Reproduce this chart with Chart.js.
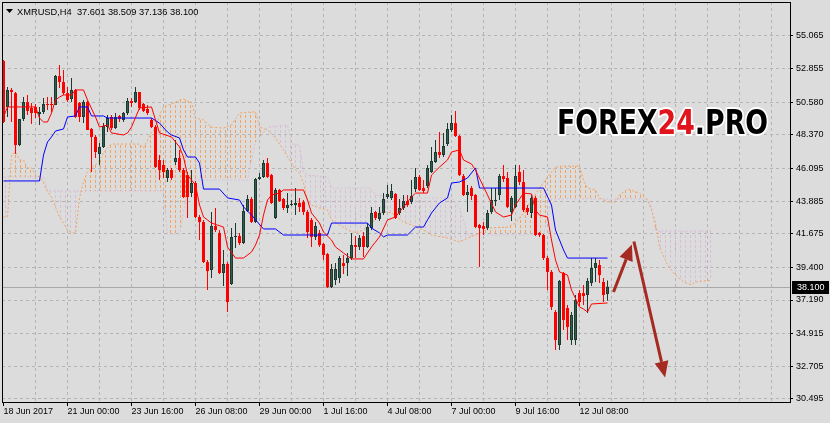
<!DOCTYPE html>
<html>
<head>
<meta charset="utf-8">
<script src="https://cdn.jsdelivr.net/npm/chart.js@4.4.1/dist/chart.umd.min.js"></script>
<style>
  html, body { margin: 0; padding: 0; background: #dcdcdc; }
  canvas { display: block; }
</style>
</head>
<body>
<canvas id="c" width="830" height="423"></canvas>
<script>
// XMRUSD H4 - candles + Ichimoku, MT4 look

// === DATOS ===
const opens = [53.37,50.26,51.41,51.20,47.68,49.44,50.59,50.19,50.26,49.78,
  49.92,50.46,50.46,50.39,52.35,51.95,51.20,50.80,51.41,50.53,
  49.58,50.59,48.77,48.23,47.07,47.55,48.90,49.58,48.83,49.65,
  49.38,49.85,50.66,50.59,51.27,50.46,50.12,49.38,48.90,46.67,
  46.33,45.45,45.99,46.53,46.80,45.99,45.65,44.43,45.11,42.81,
  42.47,39.76,39.22,42.20,41.73,39.02,39.63,38.27,41.46,41.52,
  41.05,43.22,44.03,42.47,45.38,45.52,46.46,45.65,42.74,44.64,
  44.03,43.42,43.62,43.62,43.76,43.82,43.15,42.61,41.46,41.73,
  40.98,40.30,38.07,38.54,38.68,39.69,39.69,40.03,40.91,40.78,
  41.52,40.78,42.06,43.15,42.67,43.08,44.16,44.10,44.37,43.08,
  43.42,43.89,43.82,44.70,45.52,44.77,44.91,45.86,46.53,47.21,
  47.01,47.75,48.70,49.17,48.29,45.58,44.30,44.77,44.30,42.27,
  42.20,42.06,43.15,43.89,44.30,45.58,45.45,43.15,43.49,45.86,
  45.18,43.42,43.08,44.10,41.73,41.59,40.03,39.09,36.38,34.14,
  39.02,36.65,34.48,34.48,37.66,37.66,37.53,38.34,39.36,39.56,
  38.41,37.601];
const highs = [53.44,51.61,51.54,51.27,49.44,50.93,51.07,50.53,50.46,50.26,
  50.87,50.93,50.93,52.42,53.10,52.76,51.61,52.22,51.47,50.59,
  50.73,50.66,48.83,48.36,47.82,49.17,49.71,49.71,49.85,49.71,
  49.92,50.87,50.87,51.61,51.27,50.53,50.39,49.51,49.04,47.01,
  46.67,46.13,46.13,48.02,47.35,46.13,45.86,45.99,45.25,42.94,
  42.61,39.90,43.15,43.42,41.93,40.58,39.76,42.06,42.40,41.73,
  43.62,44.30,44.16,45.45,45.79,46.67,46.80,45.72,44.77,44.70,
  44.10,44.43,43.96,44.77,44.10,43.96,43.28,42.74,42.47,41.93,
  41.05,40.37,39.63,39.69,40.17,40.24,40.37,41.73,41.52,41.59,
  41.79,42.40,43.49,43.22,43.49,44.43,44.98,45.04,44.43,44.03,
  44.30,44.30,45.31,46.13,45.65,45.31,46.33,47.55,48.02,48.56,
  48.50,49.17,49.71,49.99,48.36,45.72,44.98,44.91,44.37,42.34,
  42.47,43.28,44.77,44.77,45.72,46.33,45.86,44.23,46.33,46.33,
  45.99,43.62,44.30,44.23,41.79,41.66,40.17,39.22,36.51,38.54,
  39.09,36.85,36.38,37.53,37.87,38.21,38.68,40.03,40.03,39.90,
  38.68,38.509];
const lows = [49.17,49.58,49.24,47.07,47.62,49.31,49.71,49.11,49.51,49.04,
  49.78,50.05,49.92,50.39,51.54,51.07,50.59,50.59,49.51,49.24,
  49.17,48.70,45.86,46.80,46.33,47.48,48.56,48.70,48.77,49.24,
  49.24,49.71,50.26,50.53,50.05,49.92,49.71,48.83,46.13,45.31,
  45.45,45.18,45.31,46.33,45.86,44.10,42.74,44.16,42.74,41.25,
  39.69,37.87,38.68,41.79,38.95,38.14,36.38,38.21,40.71,40.91,
  40.98,43.15,42.40,42.40,45.31,45.45,45.45,43.69,42.67,43.82,
  43.28,43.08,43.55,42.94,43.15,42.94,41.39,40.78,41.25,40.78,
  39.90,38.00,38.00,38.21,38.34,38.95,38.81,39.90,40.03,40.58,
  40.10,40.71,41.93,42.61,42.54,42.94,44.03,43.96,42.67,42.94,
  43.28,43.49,43.69,44.50,44.57,44.43,44.77,45.79,46.46,46.80,
  46.87,47.62,48.56,48.23,45.58,44.23,43.15,43.96,42.06,39.42,
  41.59,41.93,43.01,43.55,43.96,45.18,43.42,42.54,43.42,44.98,
  43.15,42.94,42.74,41.52,41.46,39.90,37.87,36.51,33.80,33.80,
  35.16,34.48,34.14,34.14,36.78,36.85,36.31,38.14,38.41,38.34,
  37.05,37.136];
const closes = [49.24,51.41,51.27,47.68,49.44,50.59,49.99,49.85,49.85,49.92,
  50.46,50.39,50.39,52.35,51.95,51.20,50.73,51.41,49.58,49.58,
  50.59,48.70,48.23,47.21,47.55,48.97,49.51,48.83,49.58,49.44,
  49.85,50.66,50.53,51.27,50.19,49.99,49.85,48.90,46.19,45.99,
  45.86,45.99,45.45,46.80,45.99,44.16,44.16,45.11,42.81,42.47,
  39.76,39.15,42.20,41.93,39.02,39.63,37.05,41.46,41.52,41.05,
  43.22,44.03,42.47,45.38,45.52,46.46,45.52,43.76,44.64,43.89,
  43.42,43.62,43.69,43.76,43.49,43.15,41.79,41.46,42.20,40.91,
  40.24,38.07,39.29,39.29,40.03,39.49,40.03,40.91,40.78,41.39,
  40.78,42.13,43.08,42.74,43.08,44.03,44.37,44.57,42.74,43.42,
  43.89,43.62,44.23,45.52,44.64,44.57,46.13,46.60,47.21,47.01,
  47.62,48.77,49.17,48.29,45.65,44.30,44.50,44.23,42.13,42.06,
  42.00,43.08,43.96,43.96,45.58,45.38,43.49,44.10,45.58,45.18,
  43.28,43.15,44.10,41.59,41.59,40.03,39.09,36.72,34.48,38.48,
  35.84,35.36,36.17,37.19,37.05,37.46,38.48,39.36,39.69,38.88,
  37.53,38.100];

// Tenkan-sen (rojo) y Kijun-sen (azul): vértices
const tenkanBar = [0,1,8,9,10,11,12,13,14,15,17,18,20,21,23,24,26,27,30,31,
  32,34,37,38,39,42,44,45,46,48,49,50,51,52,55,56,58,60,62,63,
  64,65,66,67,69,70,75,76,77,79,80,82,83,85,87,90,92,94,96,98,
  100,102,103,106,107,109,111,112,114,115,117,118,121,123,125,127,128,130,132,133,
  134,136,137,138,139,141,142,144,145,146,147,151];
const tenkanVal = [49.58,50.26,50.26,49.51,49.24,49.24,49.85,50.73,50.93,51.07,
  51.07,51.41,51.41,50.73,49.58,48.90,49.04,48.50,48.36,48.50,
  48.90,50.19,50.26,49.38,48.50,48.23,47.55,46.87,45.65,44.98,
  43.62,42.81,42.61,42.40,42.13,40.78,40.03,40.03,40.44,40.91,
  41.59,42.94,43.96,44.30,44.43,44.64,44.64,43.96,43.08,42.40,
  41.79,41.25,40.78,40.37,39.97,39.97,40.78,41.46,42.61,42.81,
  43.49,44.16,44.43,44.43,45.65,46.19,46.67,47.21,47.35,46.67,
  46.40,45.99,44.30,43.15,42.81,42.94,43.62,44.43,44.37,43.28,
  42.94,42.81,41.25,39.90,39.09,38.88,37.87,36.72,36.58,36.38,
  36.92,36.99];
const kijunBar = [0,9,10,11,12,13,15,16,18,19,21,22,25,26,37,39,41,42,44,45,
  46,48,49,50,54,56,59,60,62,65,68,70,81,82,91,92,94,95,96,101,
  103,105,106,107,109,111,112,114,116,118,119,135,137,138,140,141,151];
const kijunVal = [45.25,45.25,47.01,47.89,48.23,48.63,48.77,49.58,49.65,50.26,
  50.26,49.65,49.65,49.51,49.51,49.17,48.56,48.36,48.16,47.35,
  46.87,46.87,46.46,44.70,44.70,44.10,43.96,43.49,42.94,42.00,
  42.00,41.59,41.59,42.40,42.40,42.06,41.73,41.46,41.59,41.59,
  42.13,42.13,42.61,43.08,43.76,44.10,45.11,45.18,45.45,46.13,
  44.77,44.77,43.62,41.93,40.58,40.03,40.03];

// Senkou Span A / B (nube, desplazada 26 barras)
const spanABar = [0,1,2,3,4,5,6,7,8,9,10,11,12,13,14,15,16,17,18,19,
  20,21,22,23,24,25,26,27,34,35,36,37,38,39,40,41,42,43,44,45,
  46,47,48,49,50,51,52,55,57,59,62,63,64,66,68,70,72,73,74,75,
  76,77,79,81,82,84,87,89,91,92,94,96,97,100,102,106,107,111,114,119,
  121,126,128,130,132,134,136,138,140,144,145,146,148,149,151,153,154,156,159,161,
  162,163,164,166,168,170,172,173,177];
const spanAVal = [42.81,42.81,47.01,47.21,46.67,46.67,46.13,46.13,45.65,45.52,
  45.11,44.50,44.16,43.49,42.81,42.40,41.93,41.73,41.73,44.10,
  45.18,45.86,46.13,46.33,46.67,47.14,47.48,47.75,47.75,47.48,
  48.02,48.56,48.77,49.71,50.26,50.39,50.46,50.59,50.73,50.80,
  50.66,50.59,49.51,49.44,49.38,49.11,48.90,48.83,49.04,49.85,
  49.92,49.92,48.90,48.70,48.16,47.35,46.46,45.99,45.79,45.11,
  43.96,43.62,43.42,43.28,42.61,42.27,41.79,41.79,42.13,42.34,
  43.08,43.15,43.08,42.47,42.27,41.79,41.59,41.39,41.12,41.73,
  42.06,42.13,42.40,43.08,43.96,44.77,45.52,46.19,46.26,46.26,
  45.31,44.77,44.64,44.10,43.82,43.82,44.30,44.70,44.43,43.96,
  43.28,42.40,40.78,39.56,38.88,38.41,38.21,38.41,38.54];
const spanBBar = [0,10,11,40,41,44,45,46,47,61,62,63,65,66,71,72,74,75,76,81,
  82,92,93,98,99,112,113,114,116,135,137,161,162,163,164,177];
const spanBVal = [45.52,45.52,44.57,44.57,41.66,41.66,43.15,44.57,45.31,45.31,
  46.67,47.89,48.50,48.90,49.04,47.75,47.68,45.86,45.65,45.52,
  44.77,44.77,44.30,44.16,44.10,44.10,43.76,43.49,41.59,41.59,
  44.03,44.03,43.49,41.93,41.86,41.86];

// Ejes
const yTicks = [55.065,52.855,50.580,48.370,46.095,43.885,41.675,39.400,37.190,34.915,32.705,30.495];
const xTickBars = [0,16,32,48,64,80,96,112,128,144];
const xTickLabels = ['18 Jun 2017','21 Jun 00:00','23 Jun 16:00','26 Jun 08:00','29 Jun 00:00',
  '1 Jul 16:00','4 Jul 08:00','7 Jul 00:00','9 Jul 16:00','12 Jul 08:00'];
const lastPrice = 38.100;
const titleText = 'XMRUSD,H4  37.601 38.509 37.136 38.100';

// Flechas de pronóstico: [barra, precio] inicio -> fin
const arrowFrom = [[152.5, 37.73], [157.6, 41.15]];
const arrowTo = [[157.1, 40.95], [165.4, 31.95]];

// === COLORES ===
const BG = '#dcdcdc';
const GRID = '#b4b4b4';
const BULL = '#2f5f4f';
const BULL_EDGE = '#1c3a30';
const BEAR = '#ff0000';
const FONT = '"Liberation Sans", Arial, sans-serif';

function hatch(color){
  const c = document.createElement('canvas');
  c.width = 5; c.height = 5;
  const g = c.getContext('2d');
  g.fillStyle = color;
  g.fillRect(0, 0, 1, 3);
  return g.createPattern(c, 'repeat');
}

function pts(bars, vals){ return bars.map((b, i) => ({ x: b, y: vals[i] })); }

const isBull = closes.map((c, i) => c >= opens[i]);
const wickData = lows.map((l, i) => ({ x: i, y: [l, highs[i]] }));
const bodyData = opens.map((o, i) => ({ x: i, y: [o, closes[i]] }));

// === PLUGIN: fondo, marco, título, logo, flechas, precio ===
const mt4Plugin = {
  id: 'mt4',
  beforeDraw(chart){
    const ctx = chart.ctx;
    ctx.save();
    ctx.fillStyle = BG;
    ctx.fillRect(0, 0, chart.width, chart.height);
    ctx.restore();
  },
  beforeDatasetsDraw(chart){
    const { ctx, chartArea: a, scales: { y } } = chart;
    const py = Math.round(y.getPixelForValue(lastPrice)) + 0.5;
    ctx.save();
    ctx.strokeStyle = '#a9a9a9';
    ctx.lineWidth = 1;
    ctx.beginPath(); ctx.moveTo(a.left, py); ctx.lineTo(a.right, py); ctx.stroke();
    ctx.restore();
  },
  afterDraw(chart){
    const { ctx, chartArea: a, scales: { x, y } } = chart;
    ctx.save();

    // flechas
    ctx.strokeStyle = '#a52a22';
    ctx.fillStyle = '#a52a22';
    ctx.lineWidth = 3;
    arrowFrom.forEach((f, i) => {
      const x1 = x.getPixelForValue(f[0]), y1 = y.getPixelForValue(f[1]);
      const x2 = x.getPixelForValue(arrowTo[i][0]), y2 = y.getPixelForValue(arrowTo[i][1]);
      const ang = Math.atan2(y2 - y1, x2 - x1);
      const hl = 16, hw = 7;
      const bx = x2 - hl * Math.cos(ang), by = y2 - hl * Math.sin(ang);
      ctx.beginPath(); ctx.moveTo(x1, y1); ctx.lineTo(bx, by); ctx.stroke();
      ctx.beginPath();
      ctx.moveTo(x2, y2);
      ctx.lineTo(bx + hw * Math.sin(ang), by - hw * Math.cos(ang));
      ctx.lineTo(bx - hw * Math.sin(ang), by + hw * Math.cos(ang));
      ctx.closePath(); ctx.fill();
    });

    // marco
    ctx.strokeStyle = '#000';
    ctx.lineWidth = 1;
    ctx.strokeRect(a.left + 0.5, a.top + 0.5, a.right - a.left, a.bottom - a.top);

    // etiqueta precio actual
    const py = Math.round(y.getPixelForValue(lastPrice));
    ctx.fillStyle = '#000';
    ctx.fillRect(a.right + 2, py - 6, 37, 13);
    ctx.fillStyle = '#fff';
    ctx.font = '9px ' + FONT;
    ctx.textBaseline = 'middle';
    ctx.fillText(lastPrice.toFixed(3), a.right + 7, py + 0.5);

    // título
    ctx.fillStyle = '#000';
    ctx.beginPath(); ctx.moveTo(6, 9); ctx.lineTo(13, 9); ctx.lineTo(9.5, 13); ctx.closePath(); ctx.fill();
    ctx.font = '9.3px ' + FONT;
    ctx.textBaseline = 'alphabetic';
    ctx.fillText(titleText, 17, 15);

    // logo
    ctx.font = 'bold 33px "DejaVu Sans", sans-serif';
    const parts = [['FOREX', '#000'], ['24', '#e2141b'], ['.PRO', '#000']];
    const total = parts.reduce((s, p) => s + ctx.measureText(p[0]).width, 0);
    ctx.translate(557, 134);
    ctx.scale(211 / total, 1);
    let px = 0;
    parts.forEach(([t, c]) => {
      ctx.lineWidth = 4; ctx.strokeStyle = '#fff'; ctx.lineJoin = 'round';
      ctx.strokeText(t, px, 0);
      ctx.fillStyle = c; ctx.fillText(t, px, 0);
      px += ctx.measureText(t).width;
    });
    ctx.restore();
  }
};

const hatchA = hatch('#f4a460');
const hatchB = hatch('#d8bfd8');

new Chart(document.getElementById('c'), {
  data: {
    datasets: [
      { type: 'line', label: 'Senkou A', data: pts(spanABar, spanAVal), borderColor: '#f4a460',
        borderWidth: 1, borderDash: [2, 2], pointRadius: 0, tension: 0,
        fill: { target: 1, above: hatchA, below: hatchB }, order: 5 },
      { type: 'line', label: 'Senkou B', data: pts(spanBBar, spanBVal), borderColor: '#d8bfd8',
        borderWidth: 1, borderDash: [2, 2], pointRadius: 0, tension: 0, fill: false, order: 5 },
      { type: 'bar', label: 'wick', data: wickData, backgroundColor: isBull.map(b => b ? BULL_EDGE : BEAR),
        barThickness: 1, grouped: false, inflateAmount: 0, borderWidth: 0, order: 3 },
      { type: 'bar', label: 'body', data: bodyData, backgroundColor: isBull.map(b => b ? BULL : BEAR),
        borderColor: isBull.map(b => b ? BULL_EDGE : BEAR), borderWidth: isBull.map(b => b ? 1 : 0),
        borderSkipped: false, barThickness: 3, grouped: false, inflateAmount: 0, minBarLength: 1, order: 2 },
      { type: 'line', label: 'Kijun', data: pts(kijunBar, kijunVal), borderColor: '#0000ff',
        borderWidth: 1, pointRadius: 0, tension: 0, fill: false, order: 1 },
      { type: 'line', label: 'Tenkan', data: pts(tenkanBar, tenkanVal), borderColor: '#ff0000',
        borderWidth: 1, pointRadius: 0, tension: 0, fill: false, order: 0 }
    ]
  },
  options: {
    responsive: false,
    animation: false,
    events: [],
    layout: { padding: { top: 2, left: 2, right: 0, bottom: 0 } },
    plugins: { legend: { display: false }, tooltip: { enabled: false }, filler: { propagate: false } },
    scales: {
      x: {
        type: 'linear', min: -0.375, max: 196.625, offset: false,
        afterBuildTicks: s => { s.ticks = []; for (let b = 0; b <= 192; b += 8) s.ticks.push({ value: b }); },
        afterFit: s => { s.height = 21; s.paddingLeft = 0; s.paddingRight = 0; },
        grid: {
          offset: false,
          color: c => (c.tick && c.tick.value === 0) ? 'rgba(0,0,0,0)' : GRID,
          tickColor: c => (c.tick && xTickBars.includes(c.tick.value)) ? '#000' : 'rgba(0,0,0,0)',
          tickLength: 4, lineWidth: 1
        },
        border: { display: false, dash: [3, 3] },
        ticks: {
          autoSkip: false, maxRotation: 0, align: 'start', padding: 0, color: '#000',
          font: { family: FONT, size: 9 },
          callback: v => { const k = xTickBars.indexOf(v); return k >= 0 ? xTickLabels[k] : ''; }
        }
      },
      y: {
        type: 'linear', position: 'right', min: 30.285, max: 57.365,
        afterBuildTicks: s => { s.ticks = yTicks.map(v => ({ value: v })); },
        afterFit: s => { s.width = 40; s.paddingTop = 0; s.paddingBottom = 0; },
        grid: { color: GRID, tickColor: '#000', tickLength: 3, lineWidth: 1 },
        border: { display: false, dash: [3, 3] },
        ticks: {
          autoSkip: false, padding: 3, color: '#000',
          font: { family: FONT, size: 9 },
          callback: v => v.toFixed(3)
        }
      }
    }
  },
  plugins: [mt4Plugin]
});
</script>
</body>
</html>
